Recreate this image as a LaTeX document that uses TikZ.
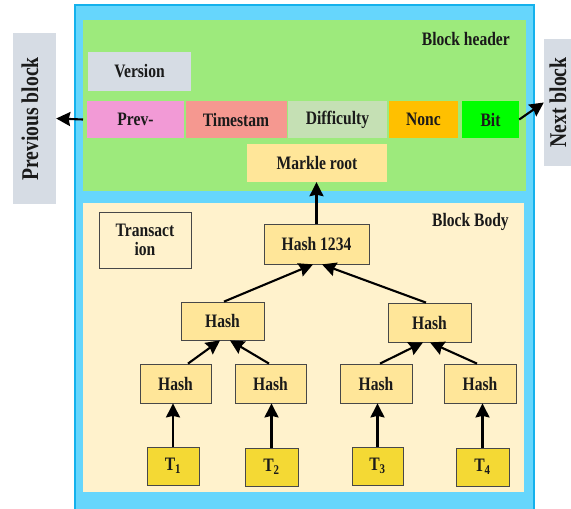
\documentclass[tikz,border=0pt]{standalone}
\usepackage{fontspec}
\setmainfont{Liberation Serif}[FakeStretch=0.82]
\usetikzlibrary{arrows.meta}

\definecolor{frameblue}{HTML}{66D6FC}
\definecolor{frameedge}{HTML}{14B1EC}
\definecolor{headgreen}{HTML}{9DEA7C}
\definecolor{bodycream}{HTML}{FFF2CC}
\definecolor{greybox}{HTML}{D6DCE4}
\definecolor{prevpink}{HTML}{F29AD6}
\definecolor{timesalmon}{HTML}{F59890}
\definecolor{diffgreen}{HTML}{C5E0B4}
\definecolor{nonceorange}{HTML}{FFC000}
\definecolor{bitgreen}{HTML}{00FF00}
\definecolor{hashyellow}{HTML}{FFE699}
\definecolor{txgold}{HTML}{F4D934}
\definecolor{inkdark}{HTML}{1A1A1A}

\tikzset{
  x=1pt, y=-1pt,
  lbl/.style={font=\bfseries\fontsize{19}{20}\selectfont, text=inkdark, inner sep=0pt},
  sidelbl/.style={font=\bfseries\fontsize{24}{26}\selectfont, text=inkdark, inner sep=0pt,
    rotate=90, anchor=base},
  field/.style={lbl, rectangle, minimum height=37pt},
  hashbox/.style={lbl, rectangle, draw=inkdark!80, line width=0.8pt, fill=hashyellow},
  txbox/.style={lbl, rectangle, draw=inkdark!80, line width=0.8pt, fill=txgold,
    minimum width=52pt, minimum height=38pt},
  sidebox/.style={rectangle, fill=greybox, inner sep=0pt},
  link/.style={line width=2.1pt, draw=black, -{Stealth[length=14pt,width=14pt,inset=1.5pt]}}
}

\begin{document}
\begin{tikzpicture}
\useasboundingbox (0,0) rectangle (571,509);

% outer frame and the two panels
\draw[fill=frameblue, draw=frameedge, line width=1.6pt] (75,5) rectangle (534,515);
\fill[headgreen] (83,20) rectangle (526,191);
\fill[bodycream] (83,203) rectangle (524,492);

% header fields
\node[field, fill=greybox, minimum width=103pt, minimum height=39pt] (version) at (139.5,71.5) {Version};
\node[field, fill=prevpink, minimum width=97pt] (prev) at (135.5,119.5) {Prev-};
\node[field, fill=timesalmon, minimum width=101pt] (time) at (236,119.5) {Timestam};
\node[field, fill=diffgreen, minimum width=99pt] (diff) at (337.5,119.5) {Difficulty};
\node[field, fill=nonceorange, minimum width=69pt] (nonce) at (423.5,119.5) {Nonc};
\node[field, fill=bitgreen, minimum width=57pt] (bit) at (490.5,119.5) {Bit};
\node[field, fill=hashyellow, minimum width=140pt, minimum height=38pt] (root) at (317,163) {Markle root};
\node[lbl, anchor=east] (headtitle) at (510,39) {Block header};

% neighbouring blocks
\node[sidebox, minimum width=43pt, minimum height=171pt] (prevblock) at (34.5,118.5) {};
\node[sidelbl] (prevtext) at (38,119) {Previous block};
\node[sidebox, minimum width=34pt, minimum height=127pt] (nextblock) at (561,102.5) {};
\node[sidelbl] (nexttext) at (566,102.5) {Next block};
\coordinate (prevstart) at (83,119.5);
\draw[link] (prevstart) -- (prevblock.east);
\draw[link] (bit.east) -- (nextblock.west);

% block body
\node[lbl, anchor=east] (bodytitle) at (509,222) {Block Body};
\node[lbl, rectangle, draw=inkdark!80, line width=0.8pt, minimum width=92pt, minimum height=56pt,
      align=center] (txlabel) at (145,240) {Transact\\[-1pt]ion};

% merkle tree
\node[hashbox, minimum width=105pt, minimum height=40pt] (h1234) at (316.5,244) {Hash 1234};
\node[hashbox, minimum width=83pt, minimum height=38pt] (hl) at (222.5,321) {Hash};
\node[hashbox, minimum width=83pt, minimum height=39pt] (hr) at (429.5,322.5) {Hash};
\node[hashbox, minimum width=71pt, minimum height=39pt] (ha) at (175.5,383.5) {Hash};
\node[hashbox, minimum width=71pt, minimum height=39pt] (hb) at (270.5,383.5) {Hash};
\node[hashbox, minimum width=72pt, minimum height=39pt] (hc) at (376,383.5) {Hash};
\node[hashbox, minimum width=72pt, minimum height=39pt] (hd) at (480,383.5) {Hash};

\node[txbox] (t1) at (173,466) {T\textsubscript{1}};
\node[txbox, minimum width=53pt] (t2) at (271.5,467) {T\textsubscript{2}};
\node[txbox, minimum width=51pt] (t3) at (377.5,466) {T\textsubscript{3}};
\node[txbox, minimum width=53pt] (t4) at (482.5,467) {T\textsubscript{4}};

% leaf links
\draw[link] (t1.north) -- (t1.north |- ha.south);
\draw[link] (t2.north) -- (t2.north |- hb.south);
\draw[link] (t3.north) -- (t3.north |- hc.south);
\draw[link] (t4.north) -- (t4.north |- hd.south);

% inner links
\draw[link] ([xshift=12.5pt]ha.north) -- ([xshift=-2.5pt]hl.south);
\draw[link] ([xshift=-1.5pt]hb.north) -- ([xshift=7.5pt]hl.south);
\draw[link] ([xshift=4pt]hc.north) -- ([xshift=-6.5pt]hr.south);
\draw[link] ([xshift=-3pt]hd.north) -- ([xshift=0.5pt]hr.south);
\draw[link] ([xshift=1.5pt]hl.north) -- ([xshift=-3.5pt]h1234.south);
\draw[link] ([xshift=-3.5pt]hr.north) -- ([xshift=5.5pt]h1234.south);
\draw[link] (h1234.north) -- (h1234.north |- root.south);
\end{tikzpicture}
\end{document}
